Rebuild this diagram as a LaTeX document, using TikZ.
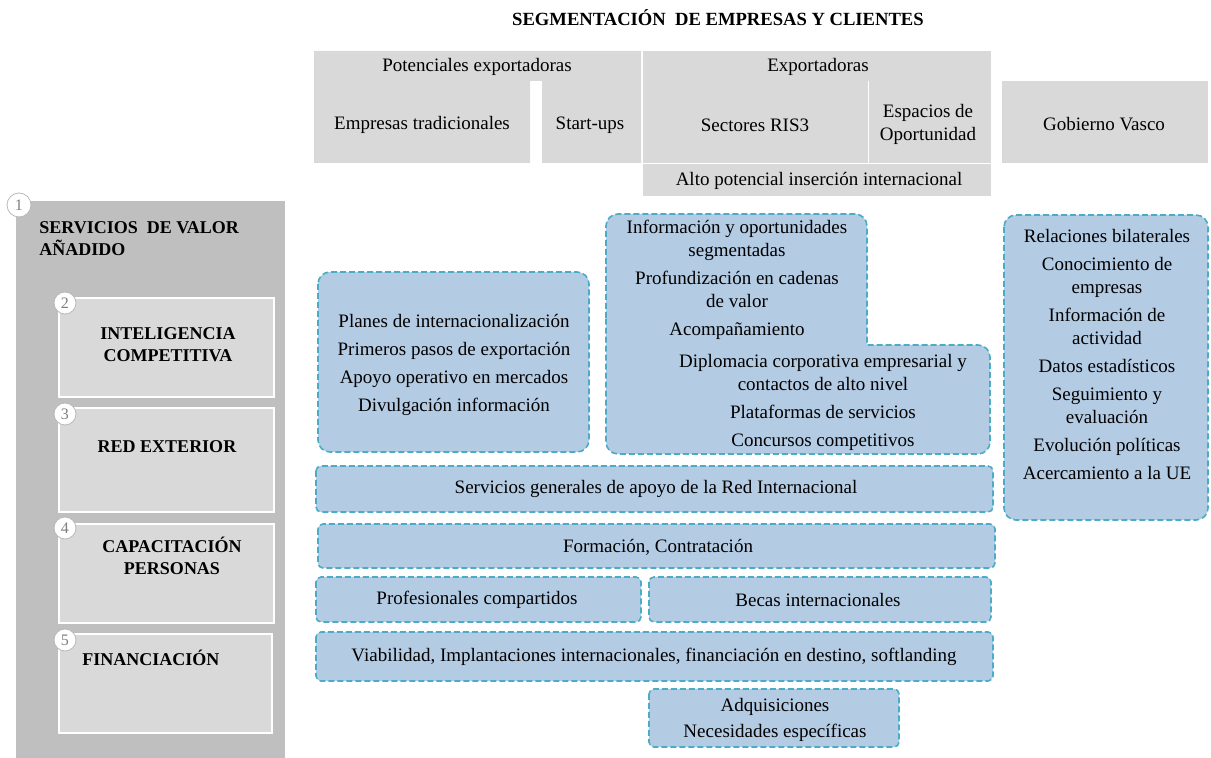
\documentclass[tikz,border=0pt]{standalone}
\usepackage{fontspec}
\setmainfont{Liberation Serif}
\usepackage{tikz}
\usetikzlibrary{positioning}
\definecolor{cellgray}{HTML}{D9D9D9}
\definecolor{panelgray}{HTML}{BFBFBF}
\definecolor{boxblue}{RGB}{180,203,228}
\definecolor{dashblue}{RGB}{75,172,198}
\definecolor{numgray}{HTML}{7F7F7F}

\begin{document}
\begin{tikzpicture}[x=0.5pt, y=-0.5pt,
    txt/.style={font=\fontsize{9.5}{11.5}\selectfont, align=center, inner sep=0pt},
    bold/.style={font=\fontsize{9}{11}\selectfont\bfseries, align=center, inner sep=0pt},
    svc/.style={fill=cellgray, draw=white, line width=1pt},
    bluebox/.style={fill=boxblue, draw=dashblue, line width=0.8pt, dash pattern=on 3pt off 1.5pt, rounded corners=6pt},
    bar/.style={bluebox, rounded corners=2.5pt},
    num/.style={circle, draw=gray!55, fill=white, text=numgray, inner sep=0pt, minimum size=11pt, font=\fontsize{8}{8}\selectfont}]
    \useasboundingbox (0,0) rectangle (1211,758);

    % segmentation header
    \node[bold, font=\fontsize{9.3}{11}\selectfont\bfseries] (title) at (718,18) {SEGMENTACIÓN\ \ DE EMPRESAS Y CLIENTES};
    \fill[cellgray] (314,51) rectangle (641,81) (314,81) rectangle (530,163) (542,81) rectangle (641,163);
    \fill[cellgray] (643,51) rectangle (991,163);
    \draw[white] (868,81) -- (868,163);
    \fill[cellgray] (643,164) rectangle (991,196);
    \fill[cellgray] (1002,81) rectangle (1208,163);
    \node[txt] (pot) at (477,67) {Potenciales exportadoras};
    \node[txt] (emp) at (422,125) {Empresas tradicionales};
    \node[txt] (sup) at (590,125) {Start-ups};
    \node[txt] (exp) at (818,67) {Exportadoras};
    \node[txt] (ris) at (755,125) {Sectores RIS3};
    \node[txt] (esp) at (928,124) {Espacios de\\Oportunidad};
    \node[txt] (alto) at (819,181) {Alto potencial inserción internacional};
    \node[txt] (gob) at (1104,124) {Gobierno Vasco};

    % value added services
    \fill[panelgray] (16,201) rectangle (285,758);
    \node[bold, anchor=north west, align=left] (sva) at (39,221) {SERVICIOS\ \ DE VALOR\\AÑADIDO};
    \draw[svc] (59,298) rectangle (274,397);
    \draw[svc] (59,408) rectangle (274,512);
    \draw[svc] (59,524) rectangle (274,623);
    \draw[svc] (59,634) rectangle (272,733);
    \node[bold] (ic) at (168,345) {INTELIGENCIA\\COMPETITIVA};
    \node[bold] (red) at (167,447) {RED EXTERIOR};
    \node[bold] (cap) at (172,556) {CAPACITACIÓN\\PERSONAS};
    \node[bold, anchor=west] (fin) at (82,658) {FINANCIACIÓN};
    \node[num, minimum size=12pt] (n1) at (19,205) {1};
    \node[num] (n2) at (65,303) {2};
    \node[num] (n3) at (65,414) {3};
    \node[num] (n4) at (65,528) {4};
    \node[num] (n5) at (65,640) {5};

    % offer blocks
    \draw[bluebox] (318,272) rectangle (589,452);
    \node[txt] (plan) at (454,365) {Planes de internacionalización\\[2.5pt]Primeros pasos de exportación\\[2.5pt]Apoyo operativo en mercados\\[2.5pt]Divulgación información};
    \draw[bluebox] (606,330) -- (606,214) -- (867,214) [sharp corners] -- (867,345) [rounded corners=6pt] -- (990,345) -- (990,454) -- (606,454) -- cycle;
    \node[txt] (inf) at (737,280) {Información y oportunidades\\segmentadas\\[2.5pt]Profundización en cadenas\\de valor\\[2.5pt]Acompañamiento};
    \node[txt] (dip) at (823,402) {Diplomacia corporativa empresarial y\\contactos de alto nivel\\[2.5pt]Plataformas de servicios\\[2.5pt]Concursos competitivos};
    \draw[bluebox] (1004,215) rectangle (1208,520);
    \node[txt] (rel) at (1107,355) {Relaciones bilaterales\\[2.5pt]Conocimiento de\\empresas\\[2.5pt]Información de\\actividad\\[2.5pt]Datos estadísticos\\[2.5pt]Seguimiento y\\evaluación\\[2.5pt]Evolución políticas\\[2.5pt]Acercamiento a la UE};

    \draw[bar] (316,466) rectangle (993,512);
    \node[txt] (sga) at (656,489) {Servicios generales de apoyo de la Red Internacional};
    \draw[bar] (318,524) rectangle (995,568);
    \node[txt] (form) at (658,547) {Formación, Contratación};
    \draw[bar] (316,577) rectangle (641,622);
    \node[txt] (prof) at (477,600) {Profesionales compartidos};
    \draw[bar] (649,577) rectangle (991,622);
    \node[txt] (becas) at (818,600) {Becas internacionales};
    \draw[bar] (316,632) rectangle (993,681);
    \node[txt] (viab) at (654,657) {Viabilidad, Implantaciones internacionales, financiación en destino, softlanding};
    \draw[bar] (649,689) rectangle (899,747);
    \node[txt] (adq) at (775,720) {Adquisiciones\\[1.5pt]Necesidades específicas};
\end{tikzpicture}
\end{document}
